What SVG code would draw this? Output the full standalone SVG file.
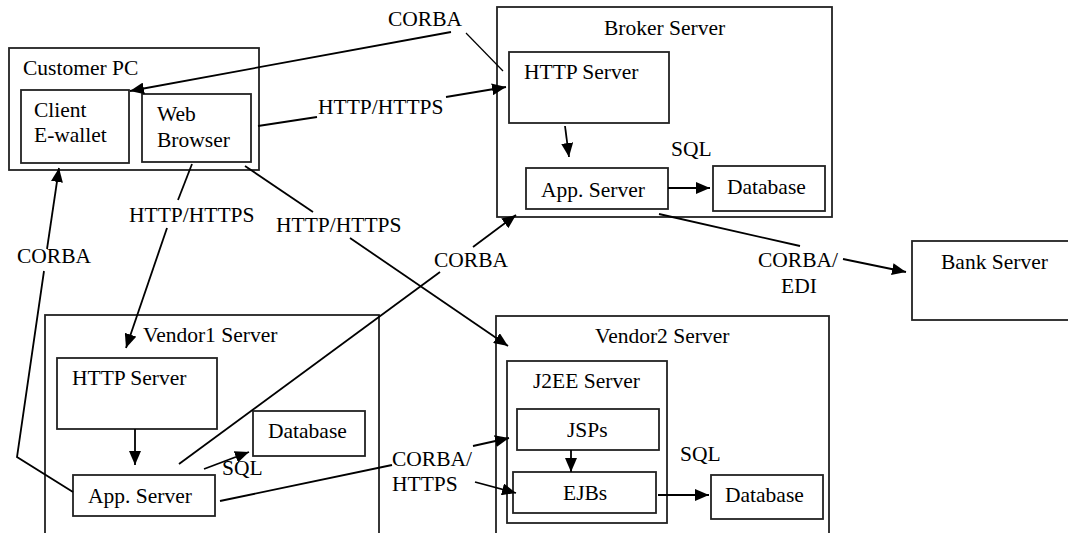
<svg xmlns="http://www.w3.org/2000/svg" width="1068" height="533" viewBox="0 0 1068 533">
<defs>
<marker id="ah" markerUnits="userSpaceOnUse" markerWidth="14" markerHeight="12" viewBox="0 0 14 12" refX="14" refY="6" orient="auto">
<path d="M0,0 L14,6 L0,12 Z" fill="#000"/>
</marker>
</defs>
<style>
text{font-family:'Liberation Serif','DejaVu Serif',serif;font-size:21.5px;fill:#000}
.box{fill:#fff;stroke:#222;stroke-width:1.8}
.c{fill:none;stroke:#000;stroke-width:1.8}
.a{fill:none;stroke:#000;stroke-width:1.8;marker-end:url(#ah)}
.thin{fill:none;stroke:#000;stroke-width:1.2}
</style>
<rect width="1068" height="533" fill="#fff"/>

<g id="customer-pc">
<rect class="box" x="9" y="48" width="250" height="122"/>
<text x="23" y="75">Customer PC</text>
</g>
<g id="client-ewallet">
<rect class="box" x="21" y="90" width="108" height="73"/>
<text x="34" y="117">Client</text>
<text x="34" y="142">E-wallet</text>
</g>
<g id="web-browser">
<rect class="box" x="142" y="94" width="109" height="68"/>
<text x="157" y="121">Web</text>
<text x="157" y="147">Browser</text>
</g>

<g id="broker-server">
<rect class="box" x="497" y="7" width="335" height="210"/>
<text x="604" y="35">Broker Server</text>
</g>
<g id="broker-http">
<rect class="box" x="509" y="52" width="160" height="71"/>
<text x="524" y="79">HTTP Server</text>
</g>
<g id="broker-app">
<rect class="box" x="526" y="168" width="142" height="41"/>
<text x="541" y="197">App. Server</text>
</g>
<g id="broker-db">
<rect class="box" x="713" y="166" width="112" height="45"/>
<text x="727" y="194">Database</text>
</g>

<g id="bank-server">
<rect class="box" x="912" y="241" width="170" height="79"/>
<text x="941" y="269">Bank Server</text>
</g>

<g id="vendor1-server">
<rect class="box" x="45" y="315" width="334" height="240"/>
<text x="143" y="342">Vendor1 Server</text>
</g>
<g id="vendor1-http">
<rect class="box" x="57" y="358" width="160" height="71"/>
<text x="72" y="385">HTTP Server</text>
</g>
<g id="vendor1-app">
<rect class="box" x="73" y="475" width="142" height="41"/>
<text x="88" y="503">App. Server</text>
</g>
<g id="vendor1-db">
<rect class="box" x="253" y="411" width="112" height="45"/>
<text x="268" y="438">Database</text>
</g>

<g id="vendor2-server">
<rect class="box" x="496" y="316" width="333" height="240"/>
<text x="595" y="343">Vendor2 Server</text>
</g>
<g id="j2ee-server">
<rect class="box" x="507" y="361" width="160" height="162"/>
<text x="533" y="388">J2EE Server</text>
</g>
<g id="jsps">
<rect class="box" x="517" y="409" width="142" height="41"/>
<text x="567" y="437">JSPs</text>
</g>
<g id="ejbs">
<rect class="box" x="513" y="472" width="143" height="41"/>
<text x="563" y="500">EJBs</text>
</g>
<g id="vendor2-db">
<rect class="box" x="711" y="475" width="112" height="44"/>
<text x="725" y="502">Database</text>
</g>

<g id="connectors">
<path class="thin" d="M503,71 L466,33"/>
<path class="a" d="M451,32 L130,91"/>
<text x="388" y="26">CORBA</text>
<path class="c" d="M258,126 L317,117"/>
<path class="a" d="M446,97 L506,87"/>
<text x="318" y="114">HTTP/HTTPS</text>
<path class="c" d="M192,164 L178,200"/>
<path class="a" d="M167,228 L126,348"/>
<text x="129" y="222">HTTP/HTTPS</text>
<path class="c" d="M245,166 L313,212"/>
<path class="a" d="M350,238 L508,346"/>
<text x="276" y="232">HTTP/HTTPS</text>
<path class="a" d="M565,126 L569,157"/>
<path class="a" d="M668,188 L710,188"/>
<text x="671" y="156">SQL</text>
<path class="c" d="M659,214 L800,246"/>
<path class="a" d="M843,259 L906,272"/>
<text x="758" y="267">CORBA/</text>
<text x="781" y="293">EDI</text>
<path class="c" d="M179,464 L440,272"/>
<path class="a" d="M473,247 L516,215"/>
<text x="434" y="267">CORBA</text>
<path class="c" d="M73,492 L17,457 L44,271"/>
<path class="a" d="M47,249 L59,168"/>
<text x="17" y="263">CORBA</text>
<path class="a" d="M135,429 L135,465"/>
<path class="a" d="M204,469 L249,452"/>
<text x="222" y="475">SQL</text>
<path class="c" d="M220,501 L392,465"/>
<path class="a" d="M473,446 L509,438"/>
<path class="a" d="M475,482 L516,493"/>
<text x="392" y="466">CORBA/</text>
<text x="392" y="491">HTTPS</text>
<path class="a" d="M571,450 L571,472"/>
<path class="a" d="M658,495 L709,495"/>
<text x="680" y="461">SQL</text>
</g>
</svg>
